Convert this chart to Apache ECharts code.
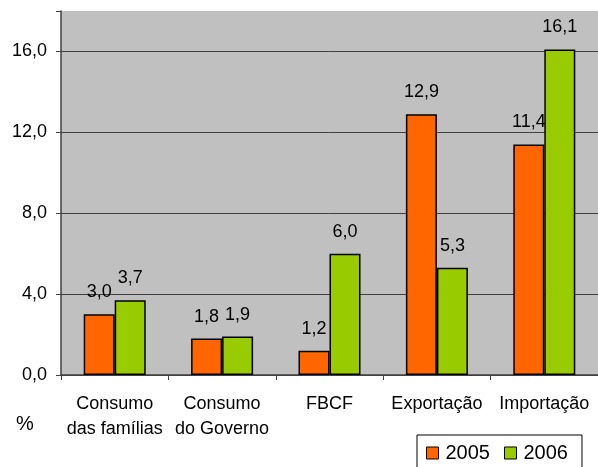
<!DOCTYPE html>
<html>
<head>
<meta charset="utf-8">
<script src="https://cdn.jsdelivr.net/npm/echarts@6/dist/echarts.min.js"></script>
<style>html,body{margin:0;padding:0;background:#fff;}#c{width:598px;height:467px;}</style>
</head>
<body>
<div id="c"></div>
<script>
var categories = ['Consumo\ndas famílias', 'Consumo\ndo Governo', 'FBCF', 'Exportação', 'Importação'];
var seriesNames = ['2005', '2006'];
var values2005 = [3.0, 1.8, 1.2, 12.9, 11.4];
var values2006 = [3.7, 1.9, 6.0, 5.3, 16.1];
var yTicks = [0, 4, 8, 12, 16];

var FONT = '"Liberation Sans", Arial, sans-serif';
function fmt(v) { return Number(v).toFixed(1).replace('.', ','); }

var chart = echarts.init(document.getElementById('c'), null, {renderer: 'canvas'});
var colors = ['#ff6600', '#99cc00'];
function mkSeries(name, data, color, z) {
  return {
    name: name,
    type: 'bar',
    z: z,
    data: data,
    barWidth: 31,
    barGap: '0%',
    itemStyle: {color: color, borderColor: '#000', borderWidth: 1.5},
    label: {
      show: true, position: 'top', distance: 13,
      color: '#000', fontFamily: FONT, fontSize: 18,
      formatter: function (p) { return fmt(p.value); }
    }
  };
}
chart.setOption({
  animation: false,
  backgroundColor: '#fff',
  textStyle: {fontFamily: FONT},
  grid: {left: 61, top: 11, width: 542, bottom: 92, show: true, backgroundColor: '#c0c0c0', borderWidth: 0},
  xAxis: {
    type: 'category',
    data: categories,
    axisLine: {show: true, lineStyle: {color: '#404040', width: 1.5}},
    axisTick: {show: true, length: 5, alignWithLabel: false, lineStyle: {color: '#404040', width: 1}},
    axisLabel: {color: '#000', fontFamily: FONT, fontSize: 18, lineHeight: 25, margin: 17, interval: 0}
  },
  yAxis: {
    type: 'value',
    min: 0, max: 18, interval: 4,
    axisLine: {show: true, lineStyle: {color: '#404040', width: 1.5}},
    axisTick: {show: true, length: 5, lineStyle: {color: '#404040'}},
    splitLine: {show: true, showMaxLine: false, lineStyle: {color: '#404040', width: 1}},
    axisLabel: {
      color: '#000', fontFamily: FONT, fontSize: 18, margin: 14,
      formatter: function (v) { return yTicks.indexOf(v) >= 0 ? fmt(v) : ''; }
    }
  },
  legend: {
    left: 417, top: 435,
    padding: [8, 14, 20, 9],
    borderColor: '#000', borderWidth: 1,
    backgroundColor: '#fff',
    itemWidth: 12, itemHeight: 12, itemGap: 14,
    icon: 'rect',
    textStyle: {color: '#000', fontFamily: FONT, fontSize: 20, padding: [0, 0, 0, 2]},
    data: seriesNames.map(function (n, i) {
      return {name: n, itemStyle: {color: colors[i], borderColor: '#000', borderWidth: 1}};
    })
  },
  graphic: [{
    type: 'text', left: 16, top: 414,
    style: {text: '%', fill: '#000', font: '20px ' + FONT}
  }],
  series: [mkSeries(seriesNames[0], values2005, colors[0], 2), mkSeries(seriesNames[1], values2006, colors[1], 3)]
});
</script>
</body>
</html>
